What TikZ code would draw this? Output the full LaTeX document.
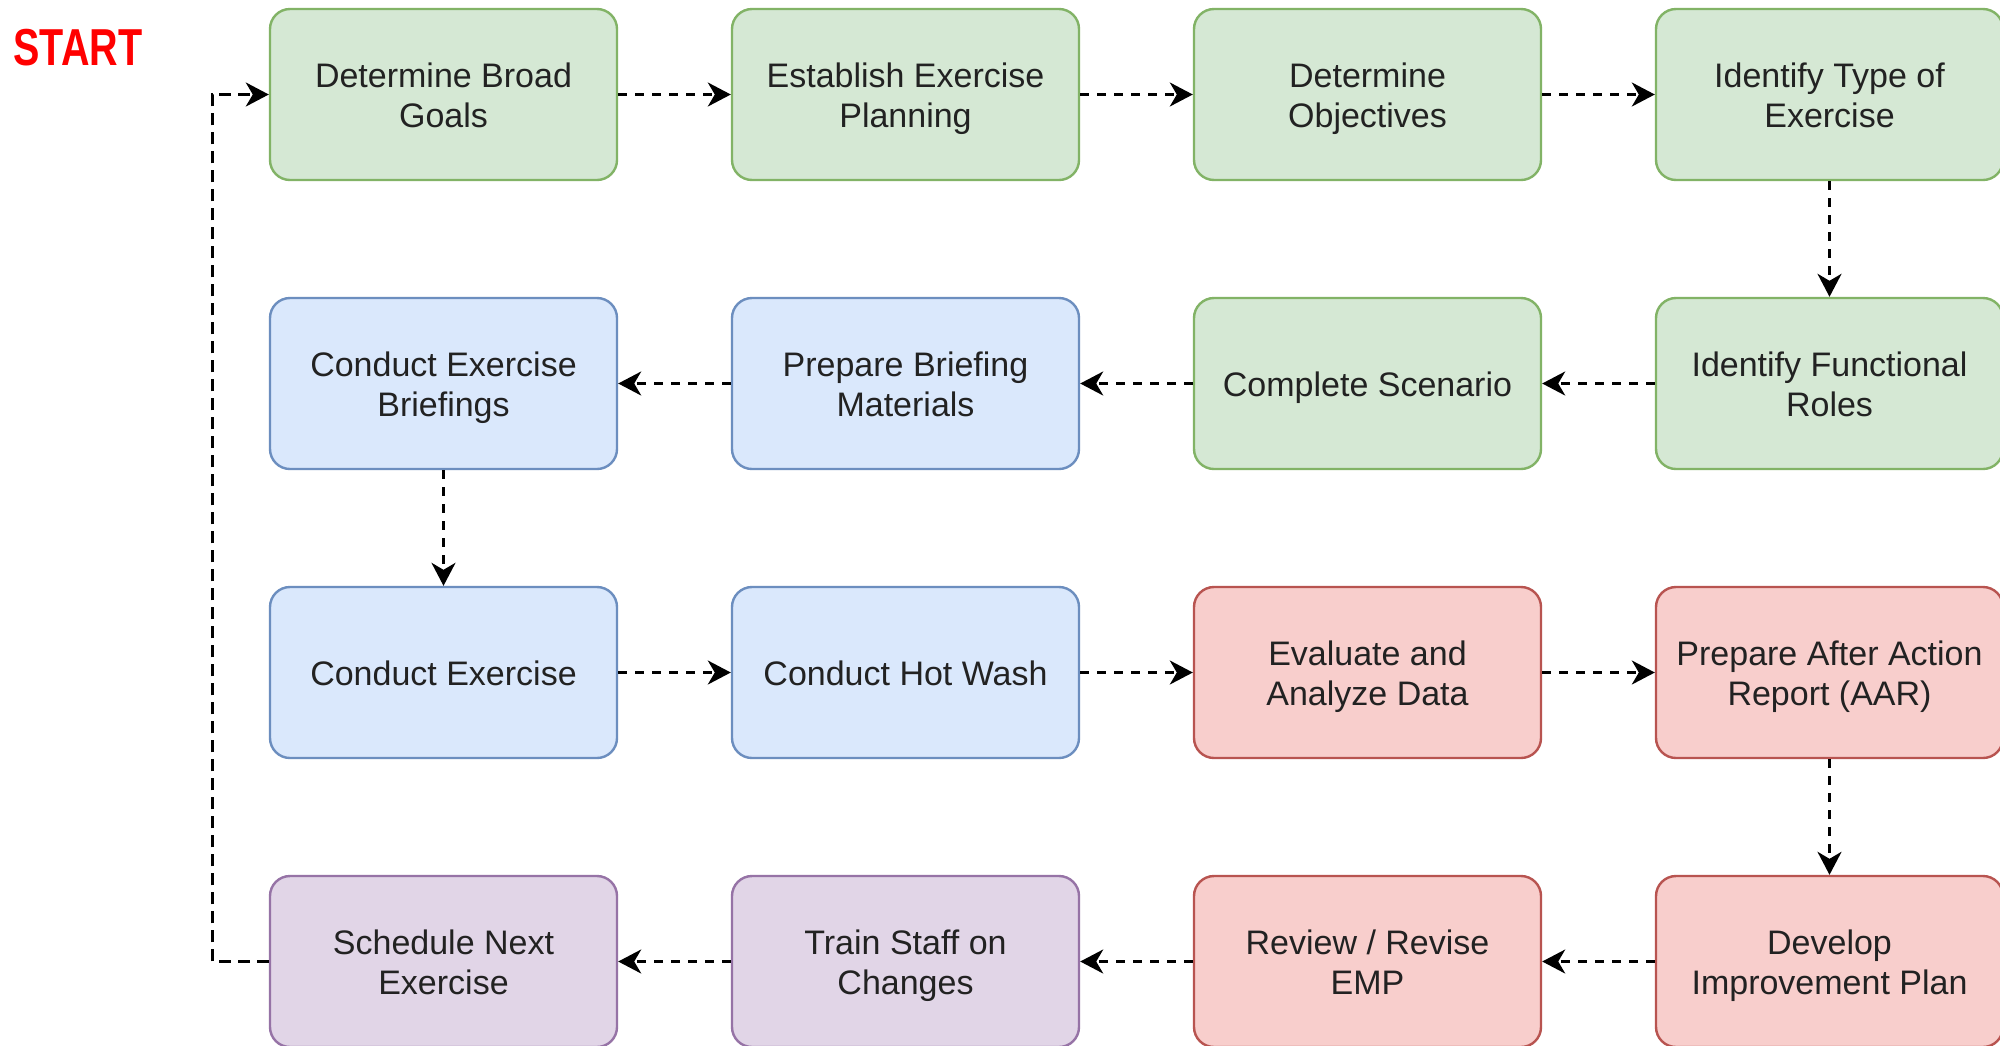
\documentclass[tikz,border=0pt]{standalone}
\usepackage{fontspec}
\setmainfont{Liberation Sans}
\newfontfamily\startfont[FakeStretch=0.76]{Liberation Sans}
\usetikzlibrary{arrows.meta}
\definecolor{gfill}{HTML}{D5E8D4}\definecolor{gline}{HTML}{82B366}
\definecolor{bfill}{HTML}{DAE8FC}\definecolor{bline}{HTML}{6C8EBF}
\definecolor{rfill}{HTML}{F8CECC}\definecolor{rline}{HTML}{B85450}
\definecolor{pfill}{HTML}{E1D5E7}\definecolor{pline}{HTML}{9673A6}
\definecolor{txt}{HTML}{222222}
\newcommand\highstrut{\rule{0pt}{19pt}}
\newcommand\twol[2]{\highstrut #1\\#2\strut}
\newcommand\onel[1]{\highstrut #1\strut}
\begin{document}
\begin{tikzpicture}[x=0.5pt,y=-0.5pt,
  box/.style={rounded corners=10pt, minimum width=173.5pt, minimum height=85.5pt,
    line width=1.2pt, align=center, inner sep=0pt, text=txt,
    font=\fontsize{17}{20}\selectfont},
  gbox/.style={box, fill=gfill, draw=gline},
  bbox/.style={box, fill=bfill, draw=bline},
  rbox/.style={box, fill=rfill, draw=rline},
  pbox/.style={box, fill=pfill, draw=pline},
  flow/.style={line width=1.3pt, dash pattern=on 4.5pt off 4pt,
    -{Stealth[length=11.5pt,width=12pt,inset=3.5pt]}},
  loopline/.style={line width=1.5pt, dash pattern=on 6pt off 3.5pt,
    -{Stealth[length=11.5pt,width=12pt,inset=3.5pt]}}]
\useasboundingbox (0,0) rectangle (2000,1045);
\clip (0,0) rectangle (2000,1045);
\fill[white] (0,0) rectangle (2000,1045);

\node[text=red, font=\startfont\bfseries\fontsize{26}{28}\selectfont, inner sep=0pt] (start) at (78,48) {START};

% row 1
\node[gbox] (b1) at (443.5,94.5) {\twol{Determine Broad}{Goals}};
\node[gbox] (b2) at (905.5,94.5) {\twol{Establish Exercise}{Planning}};
\node[gbox] (b3) at (1367.5,94.5) {\twol{Determine}{Objectives}};
\node[gbox] (b4) at (1829.5,94.5) {\twol{Identify Type of}{Exercise}};
% row 2
\node[bbox] (b5) at (443.5,383.5) {\twol{Conduct Exercise}{Briefings}};
\node[bbox] (b6) at (905.5,383.5) {\twol{Prepare Briefing}{Materials}};
\node[gbox] (b7) at (1367.5,383.5) {\onel{Complete Scenario}};
\node[gbox] (b8) at (1829.5,383.5) {\twol{Identify Functional}{Roles}};
% row 3
\node[bbox] (b9) at (443.5,672.5) {\onel{Conduct Exercise}};
\node[bbox] (b10) at (905.5,672.5) {\onel{Conduct Hot Wash}};
\node[rbox] (b11) at (1367.5,672.5) {\twol{Evaluate and}{Analyze Data}};
\node[rbox] (b12) at (1829.5,672.5) {\twol{Prepare After Action}{Report (AAR)}};
% row 4
\node[pbox] (b13) at (443.5,961.5) {\twol{Schedule Next}{Exercise}};
\node[pbox] (b14) at (905.5,961.5) {\twol{Train Staff on}{Changes}};
\node[rbox] (b15) at (1367.5,961.5) {\twol{Review / Revise}{EMP}};
\node[rbox] (b16) at (1829.5,961.5) {\twol{Develop}{Improvement Plan}};

\draw[flow] (b1) -- (b2);
\draw[flow] (b2) -- (b3);
\draw[flow] (b3) -- (b4);
\draw[flow] (b4) -- (b8);
\draw[flow] (b8) -- (b7);
\draw[flow] (b7) -- (b6);
\draw[flow] (b6) -- (b5);
\draw[flow] (b5) -- (b9);
\draw[flow] (b9) -- (b10);
\draw[flow] (b10) -- (b11);
\draw[flow] (b11) -- (b12);
\draw[flow] (b12) -- (b16);
\draw[flow] (b16) -- (b15);
\draw[flow] (b15) -- (b14);
\draw[flow] (b14) -- (b13);
\coordinate (lp) at (212,94.5);
\draw[loopline] (b13.west) -| (lp) -- (b1.west);
\end{tikzpicture}
\end{document}
